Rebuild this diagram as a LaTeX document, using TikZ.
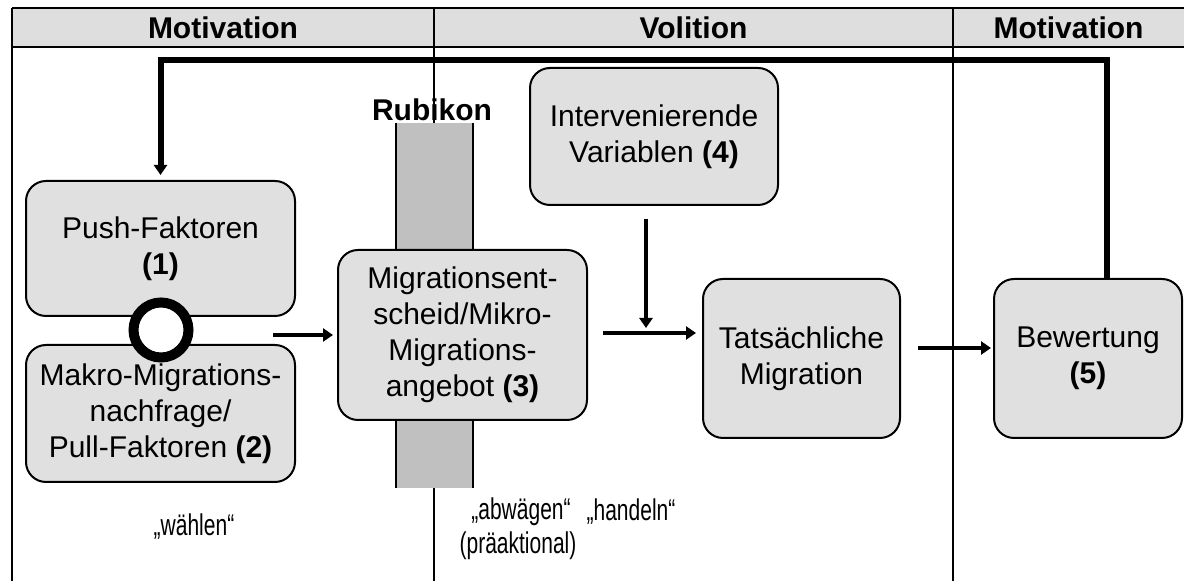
\documentclass[tikz,border=0pt]{standalone}
\usepackage{fontspec}
\setmainfont{Liberation Sans}
\usetikzlibrary{arrows.meta}

\definecolor{headgray}{HTML}{DEDEDE}
\definecolor{boxgray}{HTML}{E0E0E0}
\definecolor{bargray}{HTML}{C0C0C0}

\newcommand{\narrowtext}[1]{\scalebox{0.7}[1]{#1}}

\tikzset{
  box/.style={draw, line width=1pt, fill=boxgray, rounded corners=10pt,
    align=center, inner sep=0pt},
  arr/.style={line width=2.3pt, -{Triangle[length=5pt,width=6.5pt]}},
  divider/.style={line width=1pt},
  head/.style={font=\fontsize{15}{18}\selectfont\bfseries},
}

\begin{document}
\begin{tikzpicture}[x=0.5pt, y=-0.5pt, font=\fontsize{15}{18}\selectfont]
    \useasboundingbox (0,0) rectangle (1184,581);

    % Kopfzeile
    \fill[headgray] (12,8) rectangle (1184,47);
    \draw[divider] (12,8) -- (1184,8);
    \draw[divider] (12,47) -- (1184,47);
    \node[head] (mot1) at (223,28) {Motivation};
    \node[head] (vol) at (693.5,28) {Volition};
    \node[head] (mot2) at (1068.5,28) {Motivation};

    % Trennlinien
    \draw[divider] (12,8) -- (12,581);
    \draw[divider] (434,8) -- (434,581);
    \draw[divider] (953,8) -- (953,581);

    % Rubikon
    \fill[bargray] (396,123) rectangle (473,488);
    \draw[divider] (396,123) -- (396,488);
    \draw[divider] (473,123) -- (473,488);
    \node[font=\fontsize{15}{18}\selectfont\bfseries] (rubikon) at (432,110) {Rubikon};

    % Kästen
    \node[box, minimum width=134.5pt, minimum height=67.5pt] (push) at (160.5,248.5)
        {Push-Faktoren\\\textbf{(1)}};
    \node[box, minimum width=134.5pt, minimum height=68.5pt] (makro) at (160.5,413.5)
        {Makro-Migrations-\\nachfrage/\\Pull-Faktoren \textbf{(2)}};
    \node[box, minimum width=124.5pt, minimum height=85pt] (entscheid) at (462.5,335)
        {Migrationsent-\\scheid/Mikro-\\Migrations-\\angebot \textbf{(3)}};
    \node[box, minimum width=124pt, minimum height=68.5pt] (interv) at (654,136.5)
        {Intervenierende\\Variablen \textbf{(4)}};
    \node[box, minimum width=98.5pt, minimum height=79.5pt] (tats) at (801.5,358.5)
        {Tatsächliche\\Migration};
    \node[box, minimum width=94pt, minimum height=79.5pt] (bewert) at (1088,358.5)
        {Bewertung\\\textbf{(5)}};

    % Verknüpfung (1) und (2)
    \node[circle, draw, line width=5pt, fill=white, minimum size=27.5pt, inner sep=0pt]
        (knot) at (161,330) {};

    % Pfeile
    \coordinate (a1) at (273,335);
    \coordinate (join) at (646,333);
    \coordinate (fbtop) at (1107,60);
    \draw[arr, shorten >=2pt] (a1) -- (entscheid.west);
    \draw[arr, shorten <=7.5pt, shorten >=3pt] ([yshift=1pt]entscheid.east)
        -- ([yshift=1pt]entscheid.east -| tats.west);
    \draw[arr, shorten <=6.5pt, shorten >=2.5pt] (interv.south -| join) -- (join);
    \draw[arr, shorten <=8.5pt, shorten >=1pt] ([yshift=5.25pt]tats.east)
        -- ([yshift=5.25pt]bewert.west);

    % Rückkopplung
    \draw[arr, line width=3pt, shorten >=2.5pt] (bewert.north -| fbtop) -- (fbtop)
        -| (push.north);

    % Handlungsphasen
    \node (waehlen) at (194,527) {\narrowtext{„wählen“}};
    \node (abwaegen) at (521,512) {\narrowtext{„abwägen“}};
    \node (praeakt) at (518,546) {\narrowtext{(präaktional)}};
    \node (handeln) at (631,512) {\narrowtext{„handeln“}};
\end{tikzpicture}
\end{document}
